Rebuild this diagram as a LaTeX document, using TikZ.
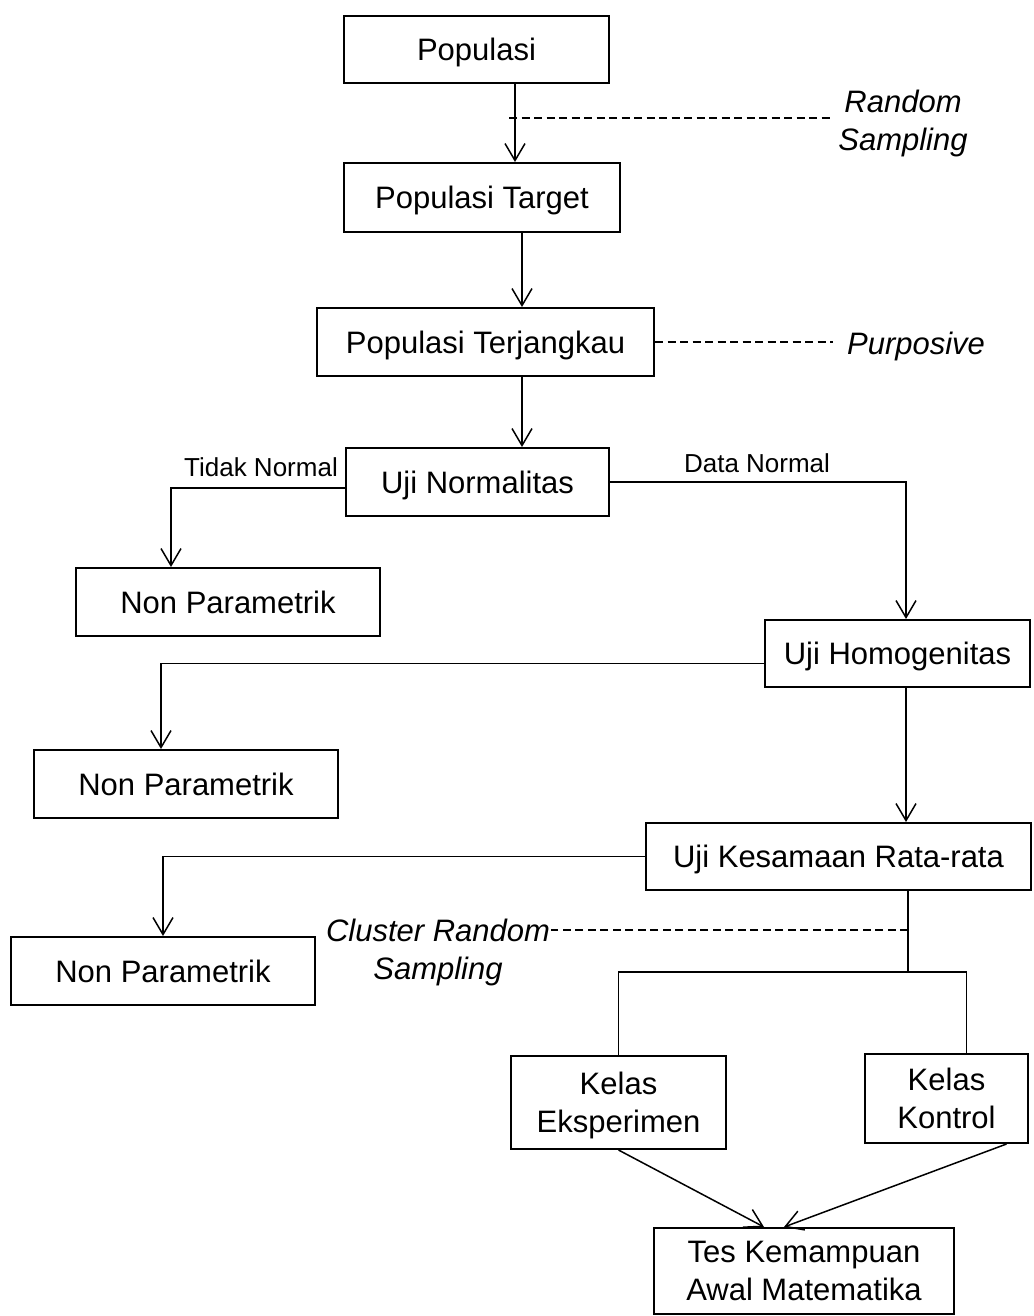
\documentclass[tikz,border=0pt]{standalone}
\usepackage{fontspec}
\setmainfont{Liberation Sans}
\usepackage{tikz}
\usetikzlibrary{arrows.meta,positioning,calc}

\begin{document}
\begin{tikzpicture}[x=1pt,y=-1pt,
    box/.style={draw,line width=2pt,inner sep=0pt,align=center,text depth=0pt,font=\fontsize{31}{38}\selectfont},
    lbl/.style={inner sep=2pt,align=center,text depth=0pt,font=\fontsize{31}{38}\selectfont\itshape},
    small/.style={inner sep=0pt,font=\fontsize{26}{31}\selectfont},
    conn/.style={line width=1.5pt,-{Straight Barb[length=17pt,width=20pt,line width=1.5pt]}},
    link/.style={line width=1.2pt},
    dashline/.style={line width=1.2pt,dash pattern=on 8pt off 4.5pt}]
    \useasboundingbox (0,0) rectangle (1033,1316);

    % boxes
    \node[box,minimum width=265pt,minimum height=67pt] (pop) at (476.5,49.5) {Populasi};
    \node[box,minimum width=276pt,minimum height=69pt] (tgt) at (482,197.5) {Populasi Target};
    \node[box,minimum width=337pt,minimum height=68pt] (tjk) at (485.5,342) {Populasi Terjangkau};
    \node[box,minimum width=263pt,minimum height=68pt] (norm) at (477.5,482) {Uji Normalitas};
    \node[box,minimum width=304pt,minimum height=68pt] (np1) at (228,602) {Non Parametrik};
    \node[box,minimum width=265pt,minimum height=67pt] (homo) at (897.5,653.5) {Uji Homogenitas};
    \node[box,minimum width=304pt,minimum height=68pt] (np2) at (186,784) {Non Parametrik};
    \node[box,minimum width=385pt,minimum height=67pt] (kes) at (838.5,856.5) {Uji Kesamaan Rata-rata};
    \node[box,minimum width=304pt,minimum height=68pt] (np3) at (163,971) {Non Parametrik};
    \node[box,minimum width=215pt,minimum height=93pt] (eks) at (618.5,1102.5) {Kelas\\Eksperimen};
    \node[box,minimum width=163pt,minimum height=89pt] (kon) at (946.5,1098.5) {Kelas\\Kontrol};
    \node[box,minimum width=300pt,minimum height=86pt] (tes) at (804,1271) {Tes Kemampuan\\Awal Matematika};

    % labels
    \node[lbl] (rs) at (903,120) {Random\\Sampling};
    \node[lbl] (pur) at (916,343) {Purposive};
    \node[small] (tn) at (261,467) {Tidak Normal};
    \node[small] (dn) at (757,463) {Data Normal};
    \node[lbl,inner sep=1pt] (cl) at (438,949) {Cluster Random\\Sampling};

    % helper points
    \coordinate (sp1) at (515,0);
    \coordinate (sp2) at (522,0);
    \coordinate (c1) at (171,0);
    \coordinate (c2) at (906,0);
    \coordinate (c3) at (161,0);
    \coordinate (d1) at (509,118);
    \coordinate (clr) at (908,930);
    \coordinate (spl) at (908,972);

    % connectors
    \draw[conn] (pop.south -| sp1) -- (tgt.north -| sp1);
    \draw[dashline] (d1) -- ([xshift=-6pt]d1 -| rs.west);
    \draw[conn] (tgt.south -| sp2) -- (tjk.north -| sp2);
    \draw[dashline] (tjk.east) -- ([xshift=-12pt]tjk.east -| pur.west);
    \draw[conn] (tjk.south -| sp2) -- (norm.north -| sp2);
    \draw[conn] ([yshift=-6pt]norm.west) -| (np1.north -| c1);
    \draw[conn] (norm.east) -| (homo.north -| c2);
    \draw[conn] ([yshift=-10pt]homo.west) -| (np2.north -| c3);
    \draw[conn] (homo.south -| c2) -- (kes.north -| c2);
    \draw[conn] (kes.west) -| (np3.north);
    \draw[link] (kes.south -| spl) -- (spl);
    \draw[dashline] (clr) -- (clr -| cl.east);
    \draw[link] (eks.north) |- (spl) -| ([xshift=20pt]kon.north);
    \draw[conn] (eks.south) -- ([xshift=-40pt]tes.north);
    \draw[conn] ([xshift=60pt]kon.south) -- ([xshift=-20pt]tes.north);
\end{tikzpicture}
\end{document}
